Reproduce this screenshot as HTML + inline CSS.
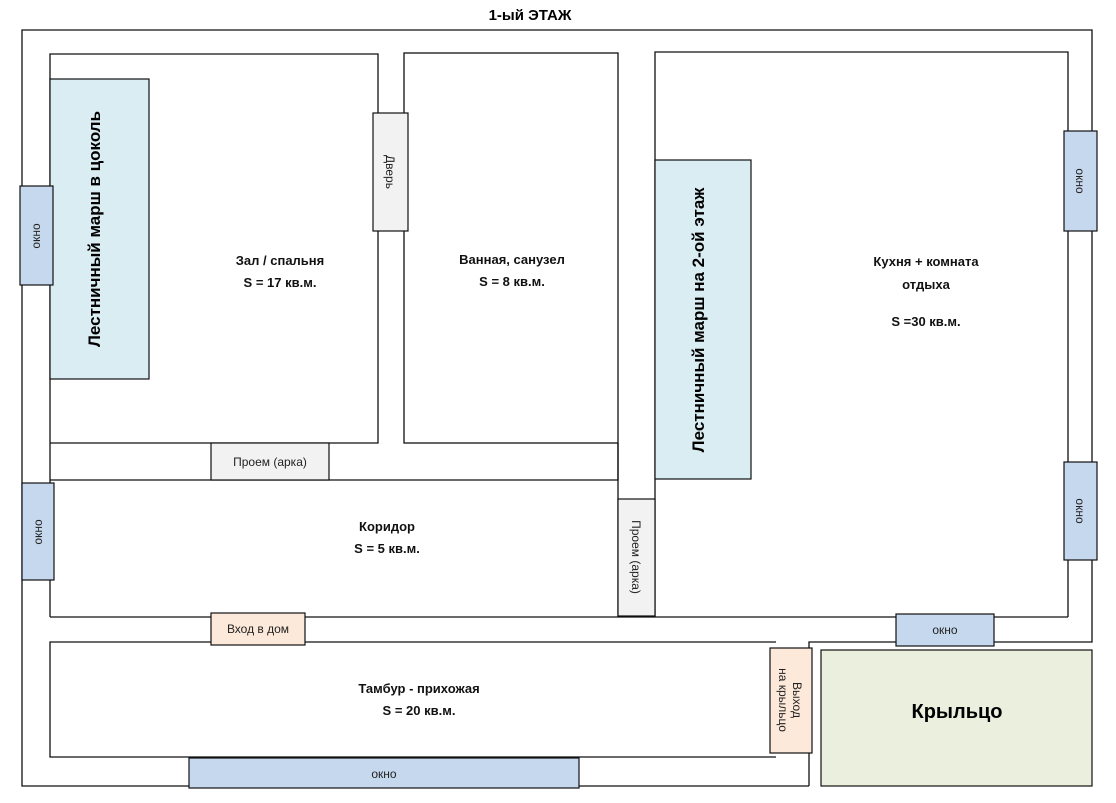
<!DOCTYPE html>
<html><head><meta charset="utf-8"><style>
html,body{margin:0;padding:0;background:#fff;}
svg{display:block;font-family:"Liberation Sans","DejaVu Sans",sans-serif;}
.b{font-weight:bold;font-size:13px;fill:#111;}
.s{font-size:12px;fill:#222;}
</style></head><body>
<svg width="1116" height="803" viewBox="0 0 1116 803" xmlns="http://www.w3.org/2000/svg">
<g stroke="#111" stroke-width="1.3" fill="none">
<!-- outer -->
<polyline points="809,786 22,786 22,30 1092,30 1092,642 809,642 809,786"/>
<!-- Zal -->
<polyline points="50,617 50,54 378,54 378,443 50,443"/>
<!-- bath -->
<rect x="404" y="53" width="214" height="390"/>
<!-- corridor -->
<polyline points="50,480 618,480 618,443"/>
<line x1="618" y1="443" x2="618" y2="617"/>
<line x1="50" y1="617" x2="1068" y2="617"/>
<!-- kitchen -->
<polyline points="655,617 655,52 1068,52 1068,617"/>
<!-- tambur -->
<polyline points="776,642 50,642 50,757 776,757"/>
</g>
<g stroke="#111" stroke-width="1.2">
<rect x="50" y="79" width="99" height="300" fill="#daedf3"/>
<rect x="655" y="160" width="96" height="319" fill="#daedf3"/>
<rect x="20" y="186" width="33" height="99" fill="#c6d8ee"/>
<rect x="22" y="483" width="32" height="97" fill="#c6d8ee"/>
<rect x="1064" y="131" width="33" height="100" fill="#c6d8ee"/>
<rect x="1064" y="462" width="33" height="98" fill="#c6d8ee"/>
<rect x="896" y="614" width="98" height="32" fill="#c6d8ee"/>
<rect x="189" y="758" width="390" height="30" fill="#c6d8ee"/>
<rect x="373" y="113" width="35" height="118" fill="#f2f2f2"/>
<rect x="211" y="443" width="118" height="37" fill="#f2f2f2"/>
<rect x="618" y="499" width="37" height="117" fill="#f2f2f2"/>
<rect x="211" y="613" width="94" height="32" fill="#fce9da"/>
<rect x="770" y="648" width="42" height="105" fill="#fce9da"/>
<rect x="821" y="650" width="271" height="136" fill="#ebf0de"/>
</g>
<text x="530" y="20" text-anchor="middle" style="font-weight:bold;font-size:15px">1-ый ЭТАЖ</text>
<text class="b" x="280" y="265" text-anchor="middle">Зал / спальня</text>
<text class="b" x="280" y="287" text-anchor="middle">S = 17 кв.м.</text>
<text class="b" x="512" y="264" text-anchor="middle">Ванная, санузел</text>
<text class="b" x="512" y="286" text-anchor="middle">S = 8 кв.м.</text>
<text class="b" x="926" y="266" text-anchor="middle">Кухня + комната</text>
<text class="b" x="926" y="289" text-anchor="middle">отдыха</text>
<text class="b" x="926" y="326" text-anchor="middle">S =30 кв.м.</text>
<text class="b" x="387" y="531" text-anchor="middle">Коридор</text>
<text class="b" x="387" y="553" text-anchor="middle">S = 5 кв.м.</text>
<text class="b" x="419" y="693" text-anchor="middle">Тамбур - прихожая</text>
<text class="b" x="419" y="715" text-anchor="middle">S = 20 кв.м.</text>
<text x="957" y="718" text-anchor="middle" style="font-weight:bold;font-size:20px">Крыльцо</text>
<text transform="translate(100,229) rotate(-90)" text-anchor="middle" style="font-weight:bold;font-size:17px">Лестничный марш в цоколь</text>
<text transform="translate(704,320) rotate(-90)" text-anchor="middle" style="font-weight:bold;font-size:17px">Лестничный марш на 2-ой этаж</text>
<text class="s" transform="translate(40,236) rotate(-90)" text-anchor="middle">окно</text>
<text class="s" transform="translate(42,532) rotate(-90)" text-anchor="middle">окно</text>
<text class="s" transform="translate(1076,181) rotate(90)" text-anchor="middle">окно</text>
<text class="s" transform="translate(1076,511) rotate(90)" text-anchor="middle">окно</text>
<text class="s" transform="translate(386,172) rotate(90)" text-anchor="middle">Дверь</text>
<text class="s" transform="translate(632,557) rotate(90)" text-anchor="middle">Проем (арка)</text>
<text class="s" x="270" y="466" text-anchor="middle">Проем (арка)</text>
<text class="s" x="945" y="634" text-anchor="middle">окно</text>
<text class="s" x="384" y="778" text-anchor="middle">окно</text>
<text class="s" x="258" y="633" text-anchor="middle">Вход в дом</text>
<text class="s" transform="translate(793,700) rotate(90)" text-anchor="middle">Выход</text>
<text class="s" transform="translate(779,700) rotate(90)" text-anchor="middle">на крыльцо</text>
</svg>
</body></html>
